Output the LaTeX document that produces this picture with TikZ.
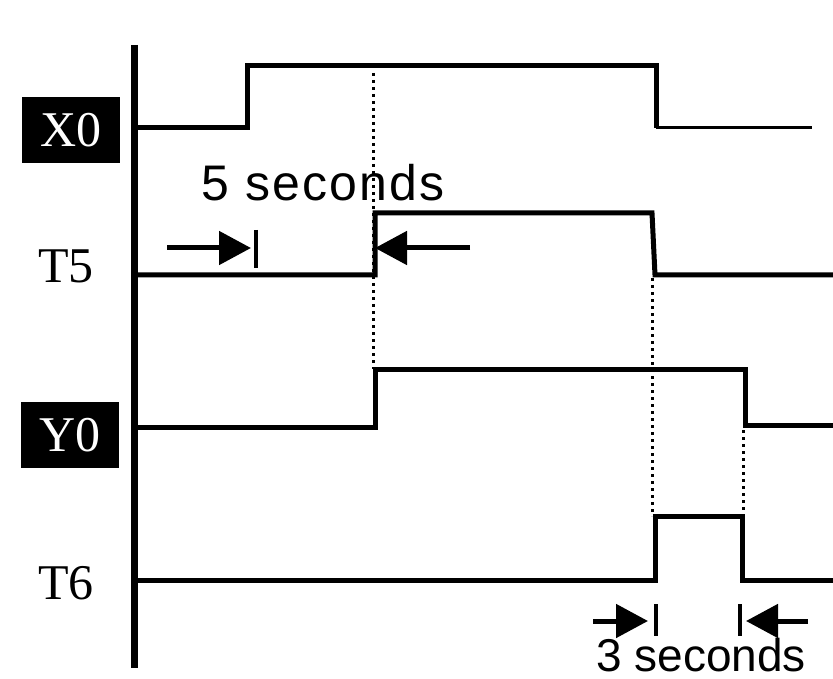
\documentclass[tikz,border=0pt]{standalone}
\usepackage{fontspec}
\setmainfont{Liberation Serif}
\setsansfont{Liberation Sans}
\usetikzlibrary{arrows.meta}
\begin{document}
\begin{tikzpicture}[x=1pt,y=-1pt,
  sig/.style={line width=5pt,line join=miter},
  axisline/.style={line width=7pt},
  guide/.style={line width=3pt,dash pattern=on 3pt off 4pt},
  dimarrow/.style={line width=5pt,-{Triangle[length=32pt,width=33pt]}},
  dimbar/.style={line width=4pt},
  boxlabel/.style={fill=black,text=white,font=\fontsize{50}{50}\selectfont,minimum width=98pt,minimum height=66pt,inner sep=0pt},
  plainlabel/.style={text=black,font=\fontsize{50}{50}\selectfont,inner sep=0pt},
  seclabel/.style={font=\sffamily\fontsize{50}{50}\selectfont,inner sep=0pt}]
\useasboundingbox (0,0) rectangle (833,679);
\fill[white] (0,0) rectangle (833,679);

% axis
\coordinate (ax1) at (134,45);
\coordinate (ax2) at (134,668);
\draw[axisline] (ax1) -- (ax2);

% labels
\node[boxlabel] (X0) at (71,130) {X0};
\node[plainlabel] (T5) at (66,266) {T5};
\node[boxlabel] (Y0) at (70,435) {Y0};
\node[plainlabel] (T6) at (66,583) {T6};

% X0 signal
\coordinate (x0a) at (134,128);
\coordinate (x0b) at (247,128);
\coordinate (x0c) at (247,66);
\coordinate (x0d) at (656,66);
\coordinate (x0e) at (656,128);
\coordinate (x0f) at (812,128);
\draw[sig] (x0a) -- (x0b) -- (x0c) -- (x0d) -- (x0e);
\draw[line width=3pt] (x0e) -- (x0f);

% T5 signal
\coordinate (t5a) at (134,275);
\coordinate (t5b) at (375,275);
\coordinate (t5c) at (375,213);
\coordinate (t5d) at (652,213);
\coordinate (t5e) at (655,275);
\coordinate (t5f) at (833,275);
\draw[sig] (t5a) -- (t5b) -- (t5c) -- (t5d) -- (t5e) -- (t5f);

% Y0 signal
\coordinate (y0a) at (134,427);
\coordinate (y0b) at (375,427);
\coordinate (y0c) at (375,369);
\coordinate (y0d) at (745,369);
\coordinate (y0e) at (745,425);
\coordinate (y0f) at (833,425);
\draw[sig] (y0a) -- (y0b) -- (y0c) -- (y0d) -- (y0e) -- (y0f);

% T6 signal
\coordinate (t6a) at (134,580);
\coordinate (t6b) at (655,580);
\coordinate (t6c) at (655,516);
\coordinate (t6d) at (742,516);
\coordinate (t6e) at (742,580);
\coordinate (t6f) at (833,580);
\draw[sig] (t6a) -- (t6b) -- (t6c) -- (t6d) -- (t6e) -- (t6f);

% dotted guides
\coordinate (g1a) at (373,73);
\coordinate (g1b) at (373,369);
\coordinate (g2a) at (652,278);
\coordinate (g2b) at (652,516);
\coordinate (g3a) at (743,430);
\coordinate (g3b) at (743,516);
\draw[guide] (g1a) -- (g1b);
\draw[guide] (g2a) -- (g2b);
\draw[guide] (g3a) -- (g3b);

% 5 seconds
\node[seclabel,font=\sffamily\fontsize{50}{50}\selectfont\addfontfeature{LetterSpace=4.5}] (five) at (323,183) {5 seconds};
\coordinate (a1s) at (167,248);
\coordinate (a1t) at (251,248);
\draw[dimarrow] (a1s) -- (a1t);
\coordinate (b1a) at (256,230);
\coordinate (b1b) at (256,268);
\draw[dimbar] (b1a) -- (b1b);
\coordinate (a2s) at (470,248);
\coordinate (a2t) at (375,248);
\draw[dimarrow] (a2s) -- (a2t);

% 3 seconds
\coordinate (a3s) at (593,621);
\coordinate (a3t) at (648,621);
\draw[dimarrow] (a3s) -- (a3t);
\coordinate (b3a) at (656,604);
\coordinate (b3b) at (656,636);
\draw[dimbar] (b3a) -- (b3b);
\coordinate (a4s) at (808,621);
\coordinate (a4t) at (746,621);
\draw[dimarrow] (a4s) -- (a4t);
\coordinate (b4a) at (740,604);
\coordinate (b4b) at (740,636);
\draw[dimbar] (b4a) -- (b4b);
\node[seclabel,font=\sffamily\fontsize{46}{46}\selectfont,anchor=base west] (three) at (596,671) {3 seconds};
\end{tikzpicture}
\end{document}
